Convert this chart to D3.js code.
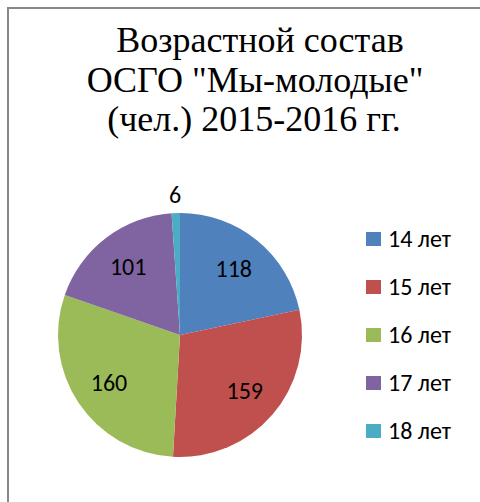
<!DOCTYPE html>
<html><head><meta charset="utf-8"><script src="https://cdn.jsdelivr.net/npm/d3@7"></script></head>
<body style="margin:0">
<svg id="viz" width="480" height="502">
  <g id="title" font-family="Liberation Serif" font-size="36"></g>
  <g id="chart" font-family="Carlito" font-size="24"></g>
</svg>
<script>
// Chart data
const categories = ["14 лет", "15 лет", "16 лет", "17 лет", "18 лет"];
const values     = [118, 159, 160, 101, 6];
const colors     = ["#4F81BD", "#C0504D", "#9BBB59", "#8064A2", "#4BACC6"];
const titleLines = ["Возрастной состав", "ОСГО \"Мы-молодые\"", "(чел.) 2015-2016 гг."];

const W = 480, H = 502;
const cx = 180, cy = 335, R = 122;

const svg = d3.select("#viz");

// frame (only left/top edges are visible in the crop)
svg.insert("rect", ":first-child")
  .attr("x", 8).attr("y", 8)
  .attr("width", W + 20).attr("height", H + 20)
  .attr("fill", "none")
  .attr("stroke", "#888").attr("stroke-width", 2);

// title
const titleX = [260, 255, 254];
const titleY = [52, 92, 131];
d3.select("#title").selectAll("text")
  .data(titleLines)
  .join("text")
    .attr("x", (_, i) => titleX[i])
    .attr("y", (_, i) => titleY[i])
    .attr("text-anchor", "middle")
    .text(d => d);

// pie
const pie = d3.pie().sort(null).value(d => d)(values);
const arc = d3.arc().innerRadius(0).outerRadius(R);
const labelArc = d3.arc().innerRadius(R * 0.7).outerRadius(R * 0.7);
const outerArc = d3.arc().innerRadius(R * 1.15).outerRadius(R * 1.15);

const chart = d3.select("#chart");
const g = chart.append("g").attr("transform", `translate(${cx},${cy})`);

g.selectAll("path.slice")
  .data(pie)
  .join("path")
    .attr("class", "slice")
    .attr("d", arc)
    .attr("fill", (_, i) => colors[i]);

g.selectAll("text.val")
  .data(pie)
  .join("text")
    .attr("class", "val")
    .attr("transform", d => {
      const p = (d.endAngle - d.startAngle) < 0.2 ? outerArc.centroid(d) : labelArc.centroid(d);
      return `translate(${p[0]},${p[1]})`;
    })
    .attr("text-anchor", "middle")
    .attr("dy", "0.34em")
    .text(d => d.data);

// legend
const legend = chart.append("g").attr("transform", "translate(366,239)");
const rows = legend.selectAll("g")
  .data(categories)
  .join("g")
    .attr("transform", (_, i) => `translate(0,${i * 48})`);

rows.append("rect")
  .attr("x", 0).attr("y", -7)
  .attr("width", 15).attr("height", 14)
  .attr("fill", (_, i) => colors[i]);

rows.append("text")
  .attr("x", 22)
  .attr("dy", "0.34em")
  .text(d => d);
</script>
</body></html>
